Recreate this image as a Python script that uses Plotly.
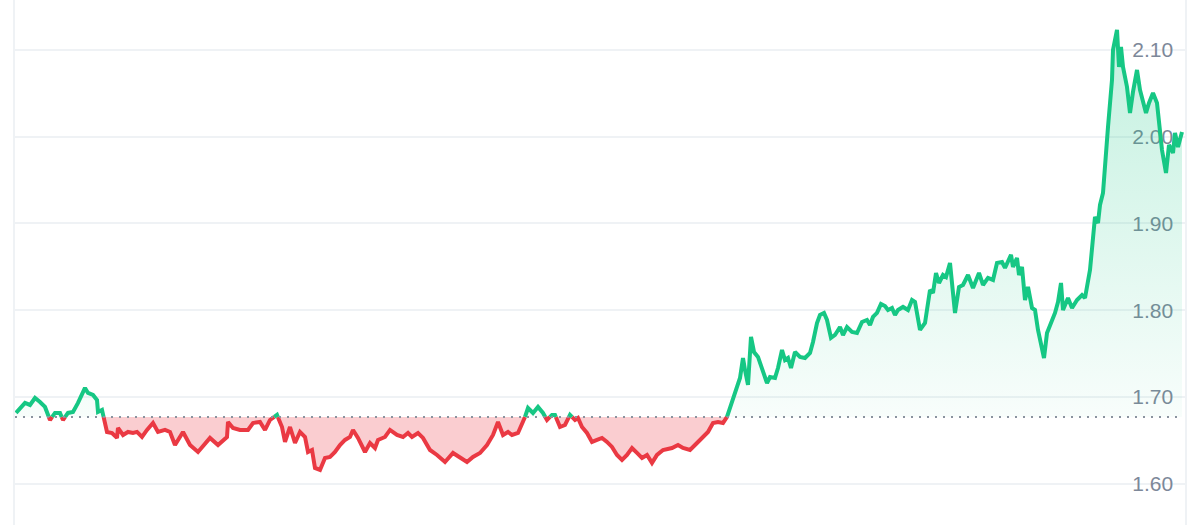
import plotly.graph_objects as go

# sample step (time axis, arbitrary uniform time units) and price
t_step = [0, 4, 9, 14, 19, 24, 29, 34, 39, 44, 47, 52, 57, 62, 69, 72, 77, 81, 82, 86, 91, 96, 101, 102,
          107, 112, 117, 121, 126, 131, 137, 142, 149, 154, 159, 167, 174, 182, 194, 202, 211, 212, 217,
          224, 232, 237, 244, 249, 254, 261, 266, 269, 274, 279, 284, 289, 292, 296, 299, 304, 309, 314,
          319, 324, 329, 334, 337, 342, 349, 354, 359, 362, 369, 374, 381, 387, 392, 396, 402, 407, 414,
          421, 429, 437, 444, 451, 457, 464, 471, 477, 482, 487, 492, 496, 502, 506, 509, 512, 517, 522,
          527, 531, 536, 539, 544, 549, 554, 559, 562, 566, 571, 576, 581, 586, 591, 596, 601, 606, 611,
          616, 621, 626, 631, 636, 641, 647, 656, 662, 667, 674, 681, 686, 692, 697, 702, 707, 711, 714,
          717, 721, 724, 727, 729, 732, 735, 738, 742, 746, 751, 754, 759, 762, 766, 769, 772, 775, 779,
          784, 789, 794, 797, 801, 804, 808, 811, 815, 819, 824, 827, 831, 836, 841, 846, 851, 854, 857,
          861, 865, 869, 872, 876, 879, 882, 887, 892, 896, 899, 904, 909, 914, 917, 920, 923, 927, 930,
          934, 939, 943, 947, 952, 957, 963, 967, 972, 977, 981, 986, 989, 995, 997, 1001, 1003, 1006,
          1009, 1012, 1016, 1019, 1022, 1025, 1028, 1031, 1036, 1039, 1042, 1045, 1047, 1052, 1056, 1061,
          1066, 1069, 1074, 1077, 1079, 1082, 1084, 1087, 1089, 1092, 1096, 1097, 1101, 1103, 1105, 1107,
          1111, 1114, 1117, 1121, 1124, 1127, 1130, 1133, 1137, 1141, 1146, 1150, 1153, 1157, 1159, 1162,
          1166]

price = [1.6816, 1.6873, 1.6931, 1.6908, 1.6988, 1.6942, 1.6885, 1.6735, 1.6816, 1.6816, 1.6735, 1.6816,
         1.6827, 1.6931, 1.7104, 1.7046, 1.7023, 1.6965, 1.6827, 1.6850, 1.6597, 1.6585, 1.6528, 1.6643,
         1.6562, 1.6597, 1.6585, 1.6597, 1.6539, 1.6620, 1.6700, 1.6597, 1.6620, 1.6597, 1.6447, 1.6597,
         1.6447, 1.6366, 1.6528, 1.6447, 1.6539, 1.6712, 1.6643, 1.6620, 1.6620, 1.6700, 1.6712, 1.6620,
         1.6735, 1.6793, 1.6654, 1.6482, 1.6654, 1.6470, 1.6597, 1.6539, 1.6366, 1.6389, 1.6182, 1.6159,
         1.6297, 1.6309, 1.6366, 1.6447, 1.6505, 1.6539, 1.6620, 1.6528, 1.6366, 1.6470, 1.6412, 1.6505,
         1.6539, 1.6620, 1.6562, 1.6539, 1.6585, 1.6539, 1.6585, 1.6528, 1.6389, 1.6332, 1.6251, 1.6355,
         1.6297, 1.6251, 1.6309, 1.6355, 1.6447, 1.6562, 1.6712, 1.6562, 1.6597, 1.6562, 1.6585, 1.6700,
         1.6770, 1.6873, 1.6816, 1.6885, 1.6816, 1.6735, 1.6793, 1.6793, 1.6654, 1.6677, 1.6793, 1.6735,
         1.6758, 1.6654, 1.6585, 1.6482, 1.6505, 1.6528, 1.6482, 1.6424, 1.6332, 1.6274, 1.6332, 1.6412,
         1.6355, 1.6297, 1.6332, 1.6240, 1.6332, 1.6389, 1.6412, 1.6447, 1.6412, 1.6389, 1.6470, 1.6528,
         1.6597, 1.6700, 1.6712, 1.6700, 1.6770, 1.6885, 1.6988, 1.7115, 1.7219, 1.7449, 1.7311, 1.7138,
         1.7691, 1.7518, 1.7461, 1.7311, 1.7161, 1.7230, 1.7219, 1.7334, 1.7541, 1.7426, 1.7449, 1.7334,
         1.7518, 1.7461, 1.7449, 1.7507, 1.7634, 1.7852, 1.7945, 1.7968, 1.7887, 1.7680, 1.7714, 1.7806,
         1.7714, 1.7806, 1.7749, 1.7737, 1.7864, 1.7887, 1.7829, 1.7922, 1.7968, 1.8071, 1.8048, 1.8002,
         1.8025, 1.7945, 1.8002, 1.8037, 1.8002, 1.8117, 1.8094, 1.7772, 1.7852, 1.8233, 1.8198, 1.8428,
         1.8313, 1.8405, 1.8382, 1.8544, 1.7968, 1.8267, 1.8290, 1.8405, 1.8256, 1.8428, 1.8290, 1.8371,
         1.8348, 1.8544, 1.8555, 1.8486, 1.8636, 1.8498, 1.8601, 1.8405, 1.8498, 1.8117, 1.8267, 1.8025,
         1.8002, 1.7772, 1.7599, 1.7449, 1.7737, 1.7887, 1.7968, 1.8094, 1.8313, 1.8002, 1.8140, 1.8025,
         1.8117, 1.8175, 1.8140, 1.8463, 1.8809, 1.9074, 1.9004, 1.9212, 1.9350, 1.9696, 2.0110, 2.0652,
         2.0998, 2.1228, 2.0802, 2.1032, 2.0802, 2.0571, 2.0272, 2.0514, 2.0767, 2.0537, 2.0421, 2.0272,
         2.0387, 2.0502, 2.0387, 1.9845, 1.9580, 1.9903, 1.9811, 2.0041, 1.9880, 2.0053]

baseline = 1.677
tick_vals = [1.60, 1.70, 1.80, 1.90, 2.00, 2.10]
tick_text = ["1.60", "1.70", "1.80", "1.90", "2.00", "2.10"]

GREEN = "#16c784"
RED = "#ea3943"

# insert baseline crossings so the colour switch happens exactly on the baseline
T, V = [t_step[0]], [price[0]]
for i in range(1, len(price)):
    a, b = price[i - 1], price[i]
    if (a - baseline) * (b - baseline) < 0:
        f = (baseline - a) / (b - a)
        T.append(t_step[i - 1] + f * (t_step[i] - t_step[i - 1]))
        V.append(baseline)
    T.append(t_step[i])
    V.append(b)

up_line = [v if v >= baseline else None for v in V]
dn_line = [v if v <= baseline else None for v in V]
up_fill = [max(v, baseline) for v in V]
dn_fill = [min(v, baseline) for v in V]
base_arr = [baseline] * len(V)

fig = go.Figure()
fig.add_trace(go.Scatter(x=T, y=base_arr, mode="lines", line=dict(width=0), hoverinfo="skip", showlegend=False))
fig.add_trace(go.Scatter(
    x=T, y=up_fill, mode="lines", line=dict(width=0), fill="tonexty",
    fillgradient=dict(type="vertical",
                      colorscale=[[0, "rgba(22,199,132,0.03)"], [1, "rgba(22,199,132,0.26)"]],
                      start=baseline, stop=max(price)),
    hoverinfo="skip", showlegend=False))
fig.add_trace(go.Scatter(x=T, y=base_arr, mode="lines", line=dict(width=0), hoverinfo="skip", showlegend=False))
fig.add_trace(go.Scatter(
    x=T, y=dn_fill, mode="lines", line=dict(width=0), fill="tonexty",
    fillcolor="rgba(234,57,67,0.25)", hoverinfo="skip", showlegend=False))

fig.add_trace(go.Scatter(x=T, y=dn_line, mode="lines", line=dict(color=RED, width=4),
                         connectgaps=False, showlegend=False))
fig.add_trace(go.Scatter(x=T, y=up_line, mode="lines", line=dict(color=GREEN, width=4),
                         connectgaps=False, showlegend=False))

fig.add_shape(type="line", xref="paper", x0=0, x1=0.995, yref="y", y0=baseline, y1=baseline,
              line=dict(color="#8a939f", width=2, dash="2px,6px"), layer="above")

fig.update_layout(
    width=1200, height=525,
    margin=dict(l=15, r=15, t=0, b=0),
    paper_bgcolor="white", plot_bgcolor="white",
    xaxis=dict(range=[-1, 1169], showgrid=False, zeroline=False, showticklabels=False,
               showline=False, fixedrange=True),
    yaxis=dict(range=[1.5525, 2.1573], side="right", tickvals=tick_vals, ticktext=tick_text,
               ticklabelposition="inside", ticklabelstandoff=13, ticks="",
               tickfont=dict(family="Arial, 'Liberation Sans', sans-serif", size=21, color="#7d8899"),
               showgrid=True, gridcolor="#eff2f5", gridwidth=1.5,
               showline=True, mirror=True, linecolor="#eff2f5", linewidth=2,
               zeroline=False, layer="below traces", fixedrange=True),
)

fig.write_html("out.html", config={"displayModeBar": False},
               post_script="document.body.style.margin='0';document.body.style.overflow='hidden';")
